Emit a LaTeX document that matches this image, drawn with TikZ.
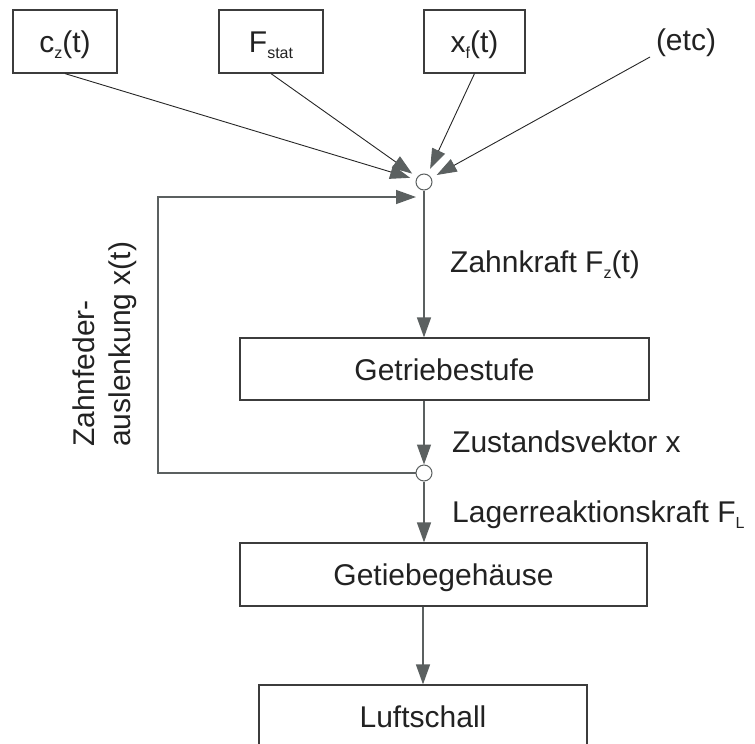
\documentclass[tikz,border=0pt]{standalone}
\usepackage{fontspec}
\setmainfont{Liberation Sans}
\usetikzlibrary{arrows.meta}
\definecolor{boxc}{HTML}{3C3C3C}
\definecolor{arrc}{HTML}{5B6060}
\definecolor{txtc}{HTML}{222222}
\newcommand\mysub[1]{\raisebox{-6pt}{\fontsize{16}{16}\selectfont #1}}
\begin{document}
\begin{tikzpicture}[x=1pt,y=-1pt,
  every node/.style={font=\fontsize{30}{36}\selectfont, text=txtc},
  blockbox/.style={draw=boxc, line width=1.2pt, inner sep=0pt, text height=22pt, text depth=0pt},
  junc/.style={circle, draw=arrc, fill=white, line width=1pt, minimum size=16pt, inner sep=0pt},
  tip/.style={-{Triangle[length=20pt,width=14pt,color=arrc]}},
  inarrow/.style={draw=black!85, line width=0.9pt, tip, shorten >=6pt},
  flow/.style={draw=arrc, line width=1.4pt, tip},
  plain/.style={draw=arrc, line width=1.4pt},
  lbl/.style={anchor=base west, inner sep=0pt}
]
\useasboundingbox (0,0) rectangle (755,744);
\clip (0,0) rectangle (755,744);

% input boxes
\node[blockbox, minimum width=104pt, minimum height=63pt] (cz) at (65,41.5) {c\mysub{z}(t)};
\node[blockbox, minimum width=104pt, minimum height=63pt] (fs) at (271,41.5) {F\mysub{stat}};
\node[blockbox, minimum width=101pt, minimum height=63pt] (xf) at (474.5,41.5) {x\mysub{f}(t)};
\node[anchor=base, inner sep=0pt] (etc) at (686,50) {(etc)};
\coordinate (etcs) at (650,57);

% junctions
\node[junc] (c1) at (424,182) {};
\node[junc] (c2) at (424,473) {};

% main blocks
\node[blockbox, minimum width=409pt, minimum height=62pt] (gs) at (444.5,369) {Getriebestufe};
\node[blockbox, minimum width=407pt, minimum height=63pt] (gh) at (443.5,574.5) {Getiebegehäuse};
\node[blockbox, minimum width=328pt, minimum height=63pt] (ls) at (423,716.5) {Luftschall};

% inputs to first junction
\draw[inarrow] (cz.south) -- (c1);
\draw[inarrow] (fs.south) -- (c1);
\draw[inarrow] (xf.south) -- (c1);
\draw[inarrow] (etcs) -- (c1);

% main chain
\draw[flow] (c1.south) -- (c1.south |- gs.north);
\draw[flow] (gs.south -| c2) -- (c2.north);
\draw[flow] (c2.south) -- (c2.south |- gh.north);
\draw[flow] (gh.south -| ls) -- (ls.north);

% feedback
\coordinate (fb1) at (158,473);
\coordinate (fb2) at (158,197);
\coordinate (fbin) at (424,197);
\draw[plain, tip, shorten >=8pt] (c2.west) -- (fb1) -- (fb2) -- (fbin);

% labels
\node[lbl] (l1) at (450,272) {Zahnkraft F\mysub{z}(t)};
\node[lbl] (l2) at (452,452) {Zustandsvektor x};
\node[lbl] (l3) at (452,522) {Lagerreaktionskraft F\mysub{L}};
\node[rotate=90, anchor=north west, align=left, inner sep=0pt] (l4) at (73,447) {Zahnfeder-\\auslenkung x(t)};
\end{tikzpicture}
\end{document}
